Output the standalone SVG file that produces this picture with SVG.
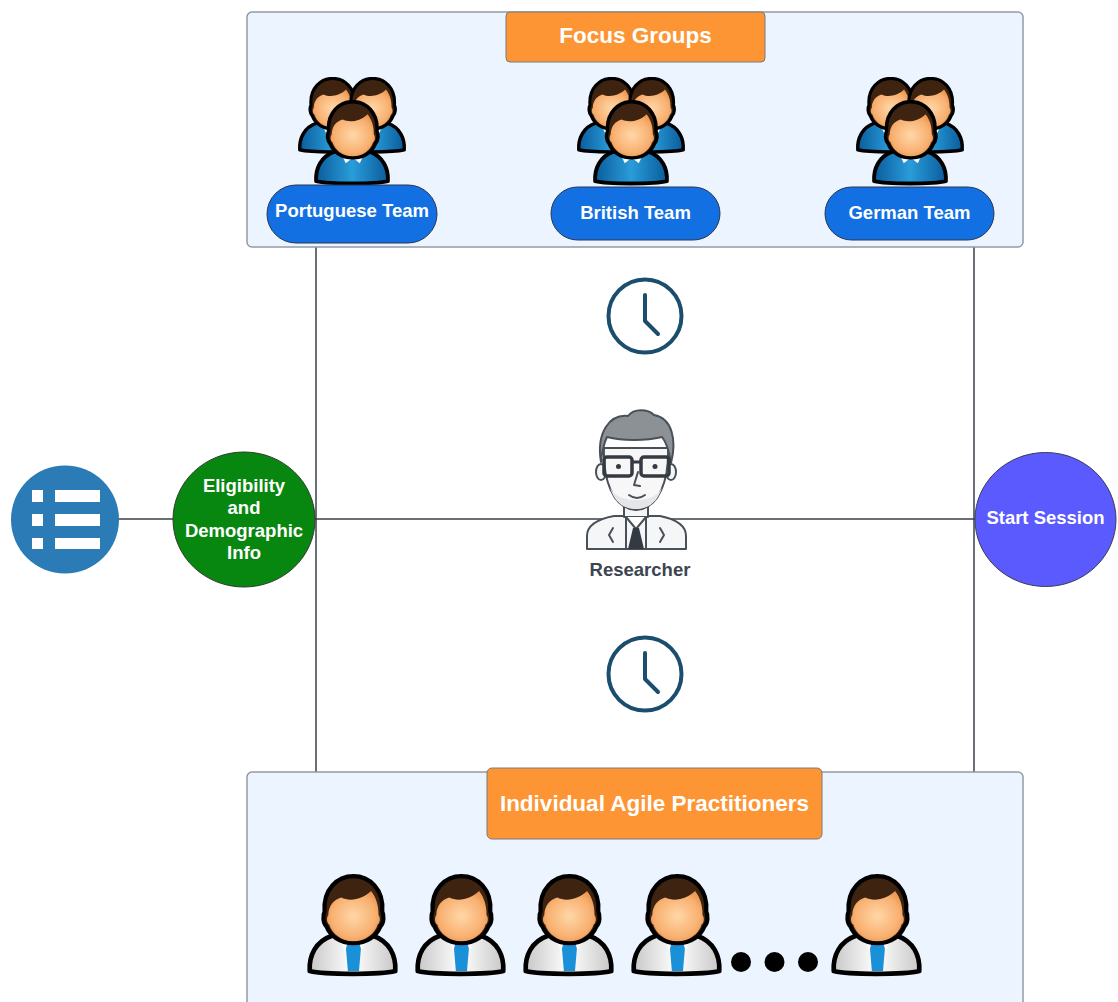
<svg xmlns="http://www.w3.org/2000/svg" xmlns:xlink="http://www.w3.org/1999/xlink" width="1118" height="1002" viewBox="0 0 1118 1002">
  <style>
    .panel { fill: #EBF4FF; stroke: #959AA1; stroke-width: 1.5; }
    .tag { fill: #FD9535; stroke: #7A7A7A; stroke-width: 1; }
    .tagtxt { font-family: "Liberation Sans", Arial, sans-serif; font-weight: bold; font-size: 22.5px; fill: #FFFFFF; text-anchor: middle; }
    .pill { fill: #1370E2; stroke: #2A3550; stroke-width: 1; }
    .lbl { font-family: "Liberation Sans", Arial, sans-serif; font-weight: bold; font-size: 18.5px; fill: #FFFFFF; text-anchor: middle; }
    .wire { stroke: #3A3F48; stroke-width: 1.5; fill: none; }
    .clock { fill: none; stroke: #1B4D6E; stroke-width: 4; stroke-linecap: round; stroke-linejoin: round; }
    .rs { stroke: #4A5058; stroke-width: 2; stroke-linejoin: round; stroke-linecap: round; }
  </style>
  <defs>
    <radialGradient id="skin" cx="0.5" cy="0.5" r="0.6">
      <stop offset="0" stop-color="#FFD7A8"/>
      <stop offset="0.7" stop-color="#F8B070"/>
      <stop offset="1" stop-color="#E8904A"/>
    </radialGradient>
    <linearGradient id="shirtWhite" x1="0" y1="0" x2="1" y2="0">
      <stop offset="0" stop-color="#C8C8C8"/>
      <stop offset="0.5" stop-color="#FFFFFF"/>
      <stop offset="1" stop-color="#C8C8C8"/>
    </linearGradient>
    <linearGradient id="shirtBlue" x1="0" y1="0" x2="1" y2="0">
      <stop offset="0" stop-color="#0A5C9C"/>
      <stop offset="0.5" stop-color="#2A9CDA"/>
      <stop offset="1" stop-color="#0A5C9C"/>
    </linearGradient>

    <!-- head shared by both person variants -->
    <g id="head">
      <path d="M20,40 C18,16 34,2 51,2 C68,2 84,16 82,40 C84,44 84,52 80,56 C76,66 66,74 51,74 C36,74 26,66 22,56 C18,52 18,44 20,40 Z" fill="#3E2410" stroke="#000" stroke-width="4.5" stroke-linejoin="round"/>
      <path d="M24,44 C24,34 30,27 38,25 C48,30 62,26 70,18 C76,26 78,34 78,44 C80,46 80,52 77,54 C74,64 64,72 51,72 C38,72 28,64 25,54 C22,52 22,46 24,44 Z" fill="url(#skin)"/>
    </g>

    <!-- person in white shirt and blue tie -->
    <symbol id="personTie" viewBox="0 0 100 110">
      <path d="M4,104 C3,88 10,72 28,66 C36,63 64,63 72,66 C90,72 97,88 96,104 C80,108 20,108 4,104 Z" fill="url(#shirtWhite)" stroke="#000" stroke-width="5" stroke-linejoin="round"/>
      <polygon points="36,67 51,73 42,81" fill="#FFFFFF"/>
      <polygon points="66,67 51,73 60,81" fill="#FFFFFF"/>
      <polygon points="45,72 57,72 59,80 57,104 45,104 43,80" fill="#1A90D8"/>
      <use xlink:href="#head"/>
    </symbol>

    <!-- person in blue shirt -->
    <symbol id="personBlue" viewBox="0 0 100 110">
      <path d="M4,104 C3,88 10,72 28,66 C36,63 64,63 72,66 C90,72 97,88 96,104 C80,108 20,108 4,104 Z" fill="url(#shirtBlue)" stroke="#000" stroke-width="5" stroke-linejoin="round"/>
      <polygon points="35,66 51,74 42,81" fill="#FFFFFF"/>
      <polygon points="67,66 51,74 60,81" fill="#FFFFFF"/>
      <use xlink:href="#head"/>
    </symbol>

    <!-- three-person team -->
    <symbol id="team" viewBox="0 0 110 110">
      <use xlink:href="#personBlue" x="0" y="0" width="70" height="77"/>
      <use xlink:href="#personBlue" x="40" y="0" width="70" height="77"/>
      <use xlink:href="#personBlue" x="16" y="23" width="78" height="86"/>
    </symbol>

    <!-- clock icon -->
    <g id="clockIcon">
      <circle cx="0" cy="0" r="36.5" class="clock"/>
      <path d="M0,-21 L0,5 L13,18" class="clock"/>
    </g>
  </defs>

  <!-- connectors -->
  <g id="connectors">
    <line x1="316" y1="247" x2="316" y2="772" class="wire"/>
    <line x1="974" y1="247" x2="974" y2="772" class="wire"/>
    <line x1="118" y1="519" x2="174" y2="519" class="wire"/>
    <line x1="315" y1="519" x2="975" y2="519" class="wire"/>
  </g>

  <!-- focus groups panel -->
  <g id="focus-groups">
    <rect x="247" y="12" width="776" height="235" rx="5" class="panel"/>
    <rect x="506" y="12" width="259" height="50" rx="4" class="tag"/>
    <text x="635.5" y="43" class="tagtxt">Focus Groups</text>
  </g>

  <g id="portuguese-team">
    <use xlink:href="#team" x="297" y="77" width="110" height="110"/>
    <rect x="267" y="185" width="170" height="58" rx="29" class="pill"/>
    <text x="352" y="217" class="lbl">Portuguese Team</text>
  </g>

  <g id="british-team">
    <use xlink:href="#team" x="576" y="77" width="110" height="110"/>
    <rect x="551" y="187" width="169" height="53" rx="26.5" class="pill"/>
    <text x="635.5" y="218.5" class="lbl">British Team</text>
  </g>

  <g id="german-team">
    <use xlink:href="#team" x="855" y="77" width="110" height="110"/>
    <rect x="825" y="187" width="169" height="53" rx="26.5" class="pill"/>
    <text x="909.5" y="218.5" class="lbl">German Team</text>
  </g>

  <!-- clocks -->
  <g id="clock-top">
    <use xlink:href="#clockIcon" x="645" y="316"/>
  </g>
  <g id="clock-bottom">
    <use xlink:href="#clockIcon" x="645" y="674"/>
  </g>

  <!-- questionnaire icon -->
  <g id="form-icon">
    <circle cx="65" cy="519.5" r="54" fill="#2A7BB6"/>
    <g fill="#FFFFFF">
      <rect x="32" y="490" width="11" height="12"/>
      <rect x="55" y="490" width="45" height="12"/>
      <rect x="32" y="514" width="11" height="12"/>
      <rect x="55" y="514" width="45" height="12"/>
      <rect x="32" y="538" width="11" height="11"/>
      <rect x="55" y="538" width="45" height="11"/>
    </g>
  </g>

  <g id="eligibility">
    <ellipse cx="244" cy="519.5" rx="71" ry="67.5" fill="#07870F" stroke="#2F3A30" stroke-width="1"/>
    <text x="244" y="491.5" class="lbl">Eligibility</text>
    <text x="244" y="514" class="lbl">and</text>
    <text x="244" y="536.5" class="lbl">Demographic</text>
    <text x="244" y="559" class="lbl">Info</text>
  </g>

  <g id="start-session">
    <ellipse cx="1045.5" cy="519.5" rx="70.5" ry="67" fill="#5A5AFF" stroke="#3A3F55" stroke-width="1"/>
    <text x="1045.5" y="523.5" class="lbl">Start Session</text>
  </g>

  <!-- researcher -->
  <g id="researcher">
    <path d="M587,549 L587,536 C587,525 598,519 614,516 L660,516 C675,519 686,525 686,536 L686,549 Z" fill="#F5F6F7" class="rs"/>
    <path d="M624,500 L624,517 L648,517 L648,500 Z" fill="#F5F6F7" class="rs"/>
    <path d="M626,517 L626,549 M646,517 L646,549" fill="none" class="rs"/>
    <path d="M626,517 L636,529 L646,517" fill="#FFFFFF" class="rs"/>
    <polygon points="633,528 639,528 644,549 628,549" fill="#343A42"/>
    <path d="M613,528 L609,535 L613,542 M660,528 L664,535 L660,542" fill="none" class="rs" stroke-width="1.6"/>
    <ellipse cx="601" cy="472" rx="5" ry="8" fill="#F5F6F7" class="rs"/>
    <ellipse cx="671" cy="472" rx="5" ry="8" fill="#F5F6F7" class="rs"/>
    <path d="M604,448 C603,478 612,509 636,510 C660,509 669,478 668,448 Z" fill="#F7F7F8" class="rs"/>
    <path d="M610,488 C616,505 626,509 636,509 C646,509 656,505 662,488 C656,498 646,500 636,500 C626,500 616,498 610,488 Z" fill="#E4E6E8"/>
    <path d="M601,462 C596,432 610,414 628,416 C634,408 648,409 654,415 C672,418 677,440 671,463 C669,450 666,442 662,437 C646,441 622,441 607,437 C604,443 602,452 601,462 Z" fill="#8C9196" class="rs"/>
    <rect x="604" y="457" width="28" height="19" rx="3" fill="none" stroke="#343A42" stroke-width="3.5"/>
    <rect x="641" y="457" width="28" height="19" rx="3" fill="none" stroke="#343A42" stroke-width="3.5"/>
    <line x1="632" y1="462" x2="641" y2="462" stroke="#343A42" stroke-width="3"/>
    <circle cx="618.5" cy="466.5" r="2.5" fill="#343A42"/>
    <circle cx="655" cy="466.5" r="2.5" fill="#343A42"/>
    <path d="M638,472 L634,485 L640,486" fill="none" class="rs" stroke-width="1.6"/>
    <path d="M629,495 Q637,501 645,495" fill="none" class="rs" stroke-width="1.8"/>
    <text x="640" y="575.5" font-family="Liberation Sans, Arial, sans-serif" font-weight="bold" font-size="18.5" fill="#3C4550" text-anchor="middle">Researcher</text>
  </g>

  <!-- individual practitioners panel -->
  <g id="individual-practitioners">
    <rect x="247" y="772" width="776" height="245" rx="5" class="panel"/>
    <rect x="487" y="768" width="335" height="71" rx="5" class="tag"/>
    <text x="654.5" y="810.5" class="tagtxt">Individual Agile Practitioners</text>
  </g>

  <g id="practitioner-1"><use xlink:href="#personTie" x="306" y="872" width="93" height="107"/></g>
  <g id="practitioner-2"><use xlink:href="#personTie" x="414" y="872" width="93" height="107"/></g>
  <g id="practitioner-3"><use xlink:href="#personTie" x="522" y="872" width="93" height="107"/></g>
  <g id="practitioner-4"><use xlink:href="#personTie" x="630" y="872" width="93" height="107"/></g>
  <g id="ellipsis">
    <circle cx="741" cy="962" r="10" fill="#000"/>
    <circle cx="774.5" cy="962" r="10" fill="#000"/>
    <circle cx="808" cy="962" r="10" fill="#000"/>
  </g>
  <g id="practitioner-5"><use xlink:href="#personTie" x="830" y="872" width="93" height="107"/></g>
</svg>
